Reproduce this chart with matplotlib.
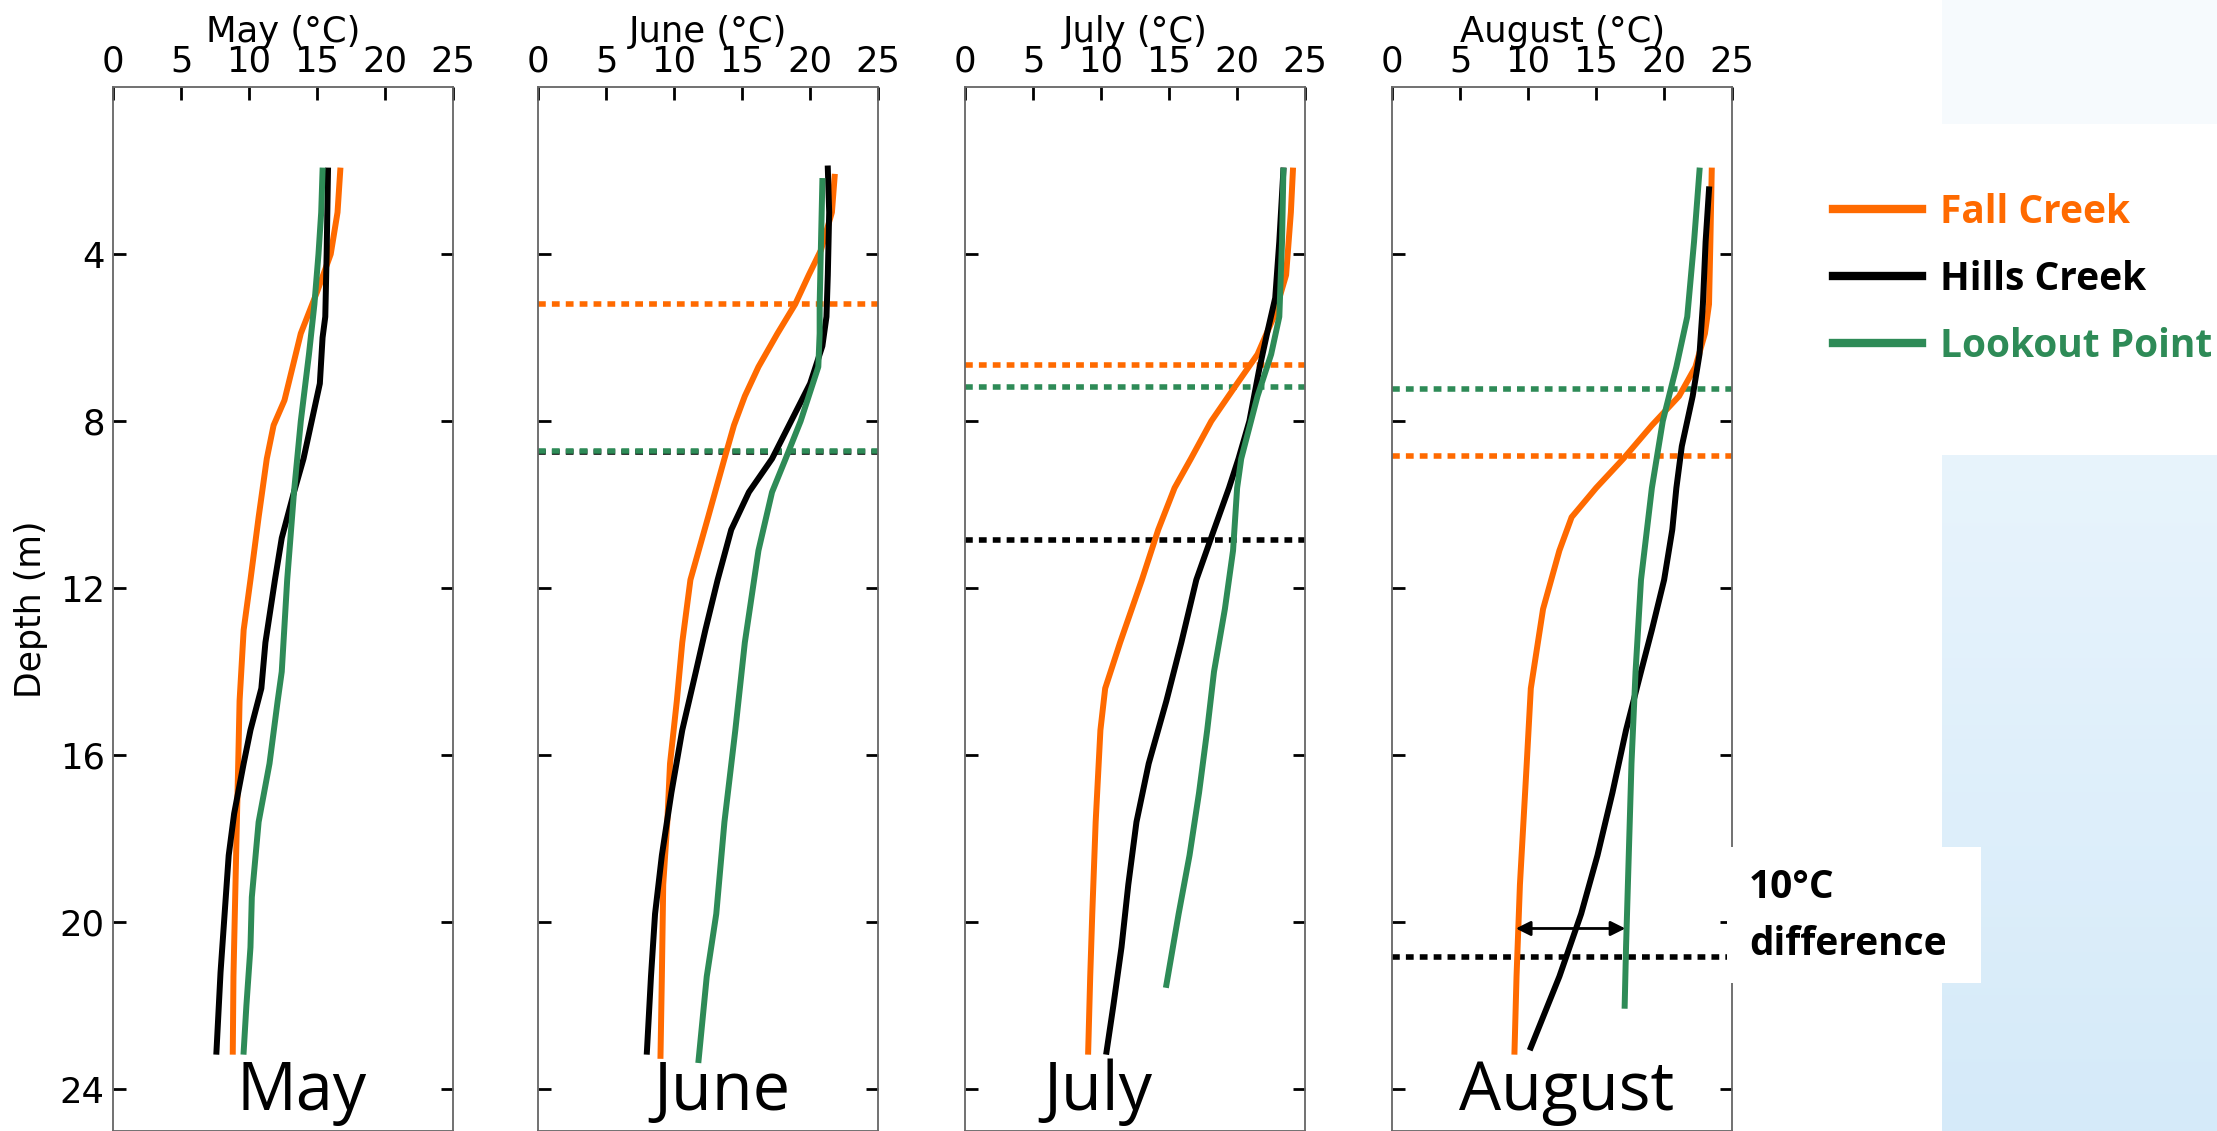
import matplotlib.pyplot as plt
import numpy as np
from matplotlib.patches import Rectangle
from matplotlib.colors import LinearSegmentedColormap

months = ['May', 'June', 'July', 'August']
reservoirs = ['Fall Creek', 'Hills Creek', 'Lookout Point']
colors = ['#FF6A00', 'black', '#2E8B57']

# temperature profiles: depth (m) and temperature (°C)
may_fall_d = [2.0, 3.0, 4.0, 4.9, 5.9, 6.7, 7.5, 8.1, 8.9, 10.3, 11.8, 13.0, 14.7, 16.2, 17.6, 19.8, 21.3, 23.1]
may_fall_t = [16.7, 16.5, 16.0, 15.0, 13.8, 13.2, 12.6, 11.8, 11.3, 10.7, 10.1, 9.6, 9.3, 9.2, 9.1, 8.95, 8.85, 8.8]
may_hills_d = [2.0, 4.0, 5.5, 6.0, 7.1, 8.0, 8.9, 9.7, 10.8, 11.8, 13.3, 14.4, 15.4, 16.2, 17.4, 18.4, 19.8, 21.2, 23.1]
may_hills_t = [15.8, 15.7, 15.6, 15.4, 15.2, 14.6, 14.0, 13.3, 12.4, 11.9, 11.2, 10.9, 10.1, 9.6, 8.9, 8.5, 8.2, 7.9, 7.6]
may_look_d = [2.0, 3.0, 4.0, 5.2, 6.4, 8.0, 9.7, 11.8, 14.0, 14.7, 16.2, 17.6, 19.4, 20.6, 22.0, 23.1]
may_look_t = [15.4, 15.3, 15.1, 14.8, 14.4, 13.8, 13.3, 12.8, 12.4, 12.1, 11.5, 10.7, 10.2, 10.1, 9.8, 9.6]

jun_fall_d = [2.15, 3.0, 3.9, 4.5, 5.2, 5.9, 6.7, 7.4, 8.1, 8.9, 10.3, 11.8, 13.3, 14.7, 16.2, 17.6, 19.1, 21.3, 23.2]
jun_fall_t = [21.8, 21.6, 20.8, 19.9, 18.9, 17.6, 16.2, 15.2, 14.4, 13.7, 12.5, 11.2, 10.6, 10.2, 9.7, 9.5, 9.2, 9.1, 9.0]
jun_hills_d = [1.95, 3.0, 4.5, 5.5, 6.2, 7.1, 8.0, 8.9, 9.7, 10.6, 11.8, 13.0, 14.0, 15.4, 16.9, 18.4, 19.8, 21.3, 23.1]
jun_hills_t = [21.3, 21.4, 21.3, 21.2, 20.9, 20.0, 18.6, 17.2, 15.5, 14.2, 13.2, 12.3, 11.6, 10.6, 9.8, 9.1, 8.6, 8.3, 8.0]
jun_look_d = [2.25, 3.7, 5.2, 5.9, 6.7, 7.4, 8.0, 8.9, 9.7, 11.1, 13.3, 15.4, 17.6, 19.8, 21.3, 23.3]
jun_look_t = [20.9, 20.8, 20.7, 20.7, 20.6, 19.9, 19.3, 18.2, 17.2, 16.2, 15.2, 14.5, 13.7, 13.1, 12.4, 11.8]

jul_fall_d = [2.0, 3.0, 4.5, 5.5, 6.4, 7.1, 8.0, 8.9, 9.6, 10.6, 11.8, 13.3, 14.4, 15.4, 17.6, 19.8, 21.3, 23.1]
jul_fall_t = [24.1, 23.95, 23.6, 22.7, 21.5, 20.0, 18.1, 16.6, 15.4, 14.2, 13.0, 11.4, 10.3, 9.95, 9.6, 9.35, 9.2, 9.05]
jul_hills_d = [2.0, 3.7, 5.05, 5.9, 6.8, 8.0, 8.9, 9.6, 10.6, 11.8, 13.3, 14.7, 16.2, 17.6, 19.1, 20.6, 22.0, 23.1]
jul_hills_t = [23.4, 23.1, 22.8, 22.2, 21.6, 20.9, 20.1, 19.4, 18.3, 17.0, 15.9, 14.8, 13.5, 12.6, 12.0, 11.5, 10.9, 10.4]
jul_look_d = [2.0, 3.7, 5.5, 6.4, 7.4, 8.9, 9.6, 11.1, 12.5, 14.0, 15.4, 16.9, 18.4, 19.8, 21.5]
jul_look_t = [23.4, 23.3, 23.1, 22.5, 21.5, 20.3, 20.0, 19.7, 19.1, 18.3, 17.8, 17.2, 16.5, 15.7, 14.8]

aug_fall_d = [2.0, 3.7, 5.2, 5.9, 6.7, 7.4, 8.1, 8.9, 9.6, 10.3, 11.1, 12.5, 14.4, 16.2, 19.1, 21.3, 23.1]
aug_fall_t = [23.5, 23.4, 23.3, 23.0, 22.3, 21.1, 19.1, 17.0, 15.0, 13.2, 12.3, 11.1, 10.2, 9.9, 9.4, 9.15, 9.0]
aug_hills_d = [2.45, 3.7, 5.2, 6.4, 7.4, 8.6, 9.6, 10.6, 11.8, 13.0, 14.0, 15.4, 16.9, 18.4, 19.8, 21.3, 23.0]
aug_hills_t = [23.3, 23.05, 22.85, 22.6, 22.1, 21.3, 20.9, 20.6, 20.0, 19.1, 18.3, 17.2, 16.2, 15.1, 13.9, 12.3, 10.2]
aug_look_d = [2.0, 3.7, 5.5, 6.7, 8.0, 9.6, 11.8, 14.0, 16.2, 18.4, 20.6, 22.0]
aug_look_t = [22.6, 22.2, 21.7, 20.9, 19.9, 19.1, 18.3, 17.9, 17.6, 17.4, 17.2, 17.1]

# thermocline depths (m) per reservoir: Fall, Hills, Lookout (None = not shown)
may_thermo = [None, None, None]
jun_thermo = [5.2, 8.73, 8.72]
jul_thermo = [6.66, 10.84, 7.18]
aug_thermo = [8.84, 20.84, 7.22]

# August arrow showing the difference at depth
arrow_depth = 20.15
arrow_temps = [9.1, 17.15]

profiles = {
    'May': [(may_fall_d, may_fall_t), (may_hills_d, may_hills_t), (may_look_d, may_look_t)],
    'June': [(jun_fall_d, jun_fall_t), (jun_hills_d, jun_hills_t), (jun_look_d, jun_look_t)],
    'July': [(jul_fall_d, jul_fall_t), (jul_hills_d, jul_hills_t), (jul_look_d, jul_look_t)],
    'August': [(aug_fall_d, aug_fall_t), (aug_hills_d, aug_hills_t), (aug_look_d, aug_look_t)],
}
thermo = {'May': may_thermo, 'June': jun_thermo, 'July': jul_thermo, 'August': aug_thermo}
month_label_x = {'May': 0.555, 'June': 0.54, 'July': 0.39, 'August': 0.513}

fig = plt.figure(figsize=(22.17, 11.31), dpi=100)

# light blue slide background on the right
bg_top = fig.add_axes([0.876, 0.890, 0.124, 0.110])
bg_top.set_facecolor('#F6FAFD')
bg_top.set_xticks([]); bg_top.set_yticks([])
for s in bg_top.spines.values():
    s.set_visible(False)
bg_low = fig.add_axes([0.876, 0.0, 0.124, 0.598])
grad = np.linspace(0, 1, 256).reshape(-1, 1)
cmap = LinearSegmentedColormap.from_list('bl', ['#E8F4FC', '#D5EAF9'])
bg_low.imshow(grad, aspect='auto', cmap=cmap, extent=[0, 1, 0, 1])
bg_low.axis('off')

lefts = [0.0510, 0.2427, 0.4353, 0.6279]
axes = []
for i, m in enumerate(months):
    ax = fig.add_axes([lefts[i], 0.0, 0.1534, 0.923])
    axes.append(ax)
    for j, (d, t) in enumerate(profiles[m]):
        ax.plot(t, d, color=colors[j], lw=4.3, label=reservoirs[j], zorder=3)
    for j, z in enumerate(thermo[m]):
        if z is not None:
            ax.axhline(z, color=colors[j], lw=4, linestyle=(0, (1.4, 1.1)), zorder=2)
    ax.set_xlim(0, 25)
    ax.set_ylim(25, 0)
    ax.set_xticks([0, 5, 10, 15, 20, 25])
    ax.set_yticks([4, 8, 12, 16, 20, 24])
    ax.xaxis.tick_top()
    ax.xaxis.set_label_position('top')
    ax.set_xlabel(m + ' (°C)', fontsize=25.5, labelpad=2)
    ax.tick_params(axis='both', direction='in', length=9, width=2, labelsize=25.5,
                   top=True, bottom=False, left=True, right=True, pad=6)
    for s in ax.spines.values():
        s.set_color('#666666')
        s.set_linewidth(1.3)
    if i == 0:
        ax.set_ylabel('Depth (m)', fontsize=25, labelpad=8)
    else:
        ax.set_yticklabels([])
    ax.text(month_label_x[m], 0.02, m, transform=ax.transAxes, ha='center',
            va='baseline', fontsize=48, family='Open Sans', zorder=4)

# double arrow in August
axes[3].annotate('', xy=(arrow_temps[0], arrow_depth), xytext=(arrow_temps[1], arrow_depth),
                 arrowprops=dict(arrowstyle='<|-|>', color='black', lw=2, mutation_scale=22,
                                 shrinkA=0, shrinkB=0), zorder=5)

# white text box over the August panel edge
fig.patches.append(Rectangle((0.779, 0.131), 0.1145, 0.120, transform=fig.transFigure,
                             facecolor='white', edgecolor='none', zorder=2))
fig.text(0.789, 0.215, '10°C', fontsize=28, fontweight='bold', family='Open Sans',
         va='center', ha='left', zorder=3)
fig.text(0.789, 0.1645, 'difference', fontsize=28, fontweight='bold', family='Open Sans',
         va='center', ha='left', zorder=3)

handles = axes[0].get_lines()[:3]
leg = fig.legend(handles, reservoirs, loc='center left', bbox_to_anchor=(0.811, 0.753),
                 frameon=False, handlelength=2.3, handletextpad=0.45, labelspacing=0.72,
                 prop={'family': 'Open Sans', 'weight': 'bold', 'size': 28},
                 labelcolor='linecolor')
for h in leg.legend_handles:
    h.set_linewidth(6)

fig.savefig('out.png', dpi=100)
